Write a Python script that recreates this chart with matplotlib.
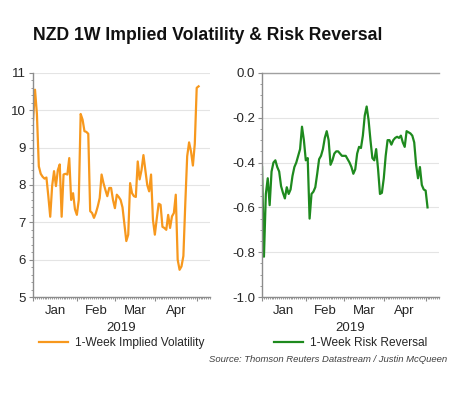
import numpy as np
import pandas as pd
import matplotlib
matplotlib.use("Agg")
import matplotlib.pyplot as plt
from matplotlib.ticker import MultipleLocator, FormatStrFormatter

plt.rcParams['font.family'] = ['Liberation Sans', 'DejaVu Sans']
plt.rcParams['axes.unicode_minus'] = False

# 1-week implied vol, one value per business day from 1 Jan 2019
implied_vol = [9.75, 10.55, 9.9, 8.5, 8.3, 8.22, 8.17, 8.2, 7.7, 7.15,
               7.97, 8.37, 7.97, 8.4, 8.55, 7.15, 8.28, 8.3, 8.28, 8.72,
               7.6, 7.78, 7.35, 7.2, 7.6, 9.9, 9.75, 9.44, 9.42, 9.37,
               7.3, 7.25, 7.12, 7.25, 7.43, 7.65, 8.28, 8.05, 7.87, 7.7,
               7.92, 7.92, 7.6, 7.38, 7.74, 7.68, 7.6, 7.4, 6.95, 6.5,
               6.67, 8.05, 7.78, 7.7, 7.68, 8.63, 8.15, 8.4, 8.8, 8.4,
               8.0, 7.83, 8.28, 7.07, 6.67, 7.1, 7.5, 7.47, 6.88, 6.85,
               6.8, 7.2, 6.85, 7.16, 7.25, 7.74, 6.0, 5.73, 5.82, 6.1,
               7.5, 8.77, 9.14, 8.9, 8.52, 9.1, 10.6, 10.64]

# 1-week risk reversal
risk_reversal = [-0.42, -0.82, -0.54, -0.47, -0.59, -0.44, -0.40, -0.39, -0.42, -0.44,
                 -0.505, -0.535, -0.56, -0.51, -0.54, -0.52, -0.46, -0.42, -0.40, -0.37,
                 -0.34, -0.24, -0.30, -0.39, -0.38, -0.65, -0.54, -0.53, -0.51, -0.45,
                 -0.385, -0.37, -0.34, -0.29, -0.26, -0.30, -0.41, -0.39, -0.36, -0.35,
                 -0.35, -0.36, -0.37, -0.37, -0.37, -0.385, -0.40, -0.42, -0.45, -0.43,
                 -0.36, -0.33, -0.335, -0.28, -0.19, -0.15, -0.21, -0.30, -0.38, -0.39,
                 -0.34, -0.43, -0.54, -0.535, -0.47, -0.37, -0.30, -0.30, -0.32, -0.30,
                 -0.29, -0.285, -0.29, -0.28, -0.31, -0.33, -0.26, -0.265, -0.27, -0.28,
                 -0.31, -0.41, -0.47, -0.42, -0.50, -0.52, -0.525, -0.60]

dates = pd.bdate_range('2019-01-01', periods=len(implied_vol))
month_names = ['Jan', 'Feb', 'Mar', 'Apr']

x = np.arange(len(dates))
# business-day positions of month starts (Jan..May)
starts = [0] + [i for i in range(1, len(dates)) if dates[i].month != dates[i - 1].month]
mids = [(starts[k] + starts[k + 1]) / 2 for k in range(len(month_names))]

orange = '#F7981D'
green = '#1E8A1E'
axis_col = '#8C8C8C'
txt_col = '#262626'

fig = plt.figure(figsize=(4.73, 3.94), dpi=100)
fig.text(0.07, 0.91, 'NZD 1W Implied Volatility & Risk Reversal', fontsize=12.7,
         fontweight='bold', color='#111111', ha='left', va='center')

ax1 = fig.add_axes([0.07, 0.246, 0.374, 0.569])
ax2 = fig.add_axes([0.554, 0.246, 0.374, 0.569])


def style(ax):
    for s in ['top', 'right']:
        ax.spines[s].set_visible(False)
    for s in ['left', 'bottom']:
        ax.spines[s].set_color(axis_col)
        ax.spines[s].set_linewidth(1.0)
    ax.set_xlim(0, 93)
    ax.set_xticks(starts)
    ax.set_xticklabels([])
    ax.xaxis.set_minor_locator(MultipleLocator(1))
    ax.tick_params(axis='x', which='major', length=3, color=axis_col, direction='out')
    ax.tick_params(axis='x', which='minor', length=1.5, color=axis_col, direction='out')
    ax.tick_params(axis='y', which='major', length=3, color=axis_col, labelsize=9.5,
                   labelcolor=txt_col, pad=2)
    ax.tick_params(axis='y', which='minor', length=1.5, color=axis_col)
    ax.grid(axis='y', color='#E4E4E4', linestyle='-', linewidth=0.8)
    ax.set_axisbelow(True)
    for m, name in zip(mids, month_names):
        ax.text(m, -0.035, name, transform=ax.get_xaxis_transform(), ha='center',
                va='top', fontsize=9.5, color=txt_col)
    ax.text(0.5, -0.11, '2019', transform=ax.transAxes, ha='center', va='top',
            fontsize=9.5, color=txt_col)


style(ax1)
ax1.plot(x, implied_vol, color=orange, lw=1.6)
ax1.set_ylim(5, 11)
ax1.yaxis.set_major_locator(MultipleLocator(1))
ax1.yaxis.set_minor_locator(MultipleLocator(0.2))

style(ax2)
ax2.plot(x, risk_reversal, color=green, lw=1.6)
ax2.set_ylim(-1.0, 0.0)
ax2.yaxis.set_major_locator(MultipleLocator(0.2))
ax2.yaxis.set_minor_locator(MultipleLocator(0.05))
ax2.yaxis.set_major_formatter(FormatStrFormatter('%.1f'))
ax2.axhline(0.0, color='#A0A0A0', lw=1.0, clip_on=False)

ax1.legend(['1-Week Implied Volatility'], loc='center', bbox_to_anchor=(0.5, -0.205),
           frameon=False, fontsize=8.6, handlelength=2.4, handletextpad=0.6,
           labelcolor=txt_col, borderpad=0)
ax2.legend(['1-Week Risk Reversal'], loc='center', bbox_to_anchor=(0.5, -0.205),
           frameon=False, fontsize=8.6, handlelength=2.4, handletextpad=0.6,
           labelcolor=txt_col, borderpad=0)

fig.text(0.945, 0.088, 'Source: Thomson Reuters Datastream / Justin McQueen', fontsize=6.8,
         style='italic', color='#404040', ha='right', va='center')

fig.savefig('out.png', dpi=100)
